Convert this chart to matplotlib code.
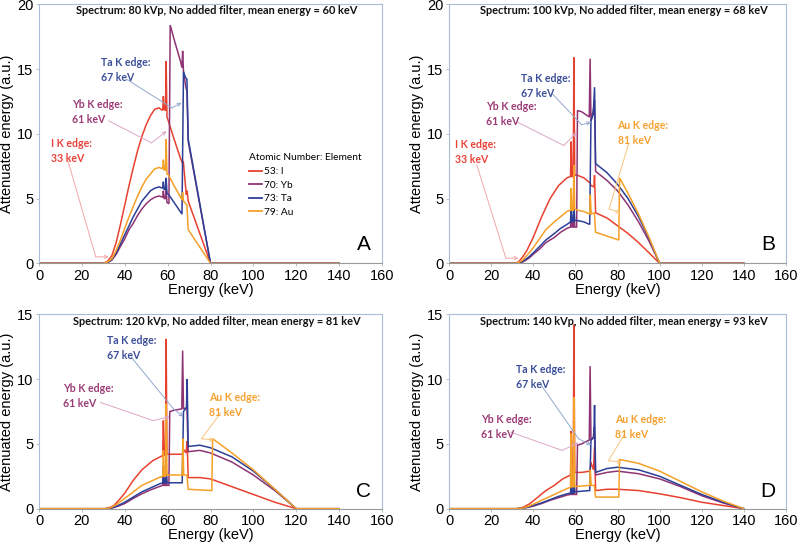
import matplotlib
matplotlib.use("Agg")
import matplotlib.pyplot as plt
from matplotlib.lines import Line2D

# ---------------- data (energy keV, attenuated energy a.u.) ----------------
elements = ["53: I", "70: Yb", "73: Ta", "79: Au"]
colors = ["#e8412f", "#8e3474", "#2c3f97", "#f5a027"]

a_I = [(0,0),(30,0),(32,0.15),(34,0.6),(36,1.6),(38,3.0),(40,4.5),(42,6.0),(44,7.4),(46,8.7),(48,9.8),(50,10.7),(52,11.4),(54,11.9),(56,12.0),(57.7,11.8),(58.0,12.9),(58.4,11.9),(59.0,11.8),(59.3,15.6),(59.7,11.3),(60.5,10.9),(63,9.6),(66,8.1),(67.0,7.7),(67.3,7.9),(68.7,5.3),(69.1,5.6),(69.6,4.8),(80,0),(140,0)]
a_Yb = [(0,0),(30,0),(32,0.05),(34,0.25),(36,0.7),(38,1.3),(40,1.9),(42,2.6),(44,3.1),(46,3.7),(48,4.2),(50,4.6),(52,4.9),(54,5.1),(56,5.2),(57.7,5.1),(58.0,5.6),(58.4,5.0),(59.0,5.0),(59.3,5.9),(59.7,4.7),(60.6,4.6),(61.2,18.4),(63,17.3),(66,15.6),(66.7,15.1),(67.0,16.4),(67.4,14.8),(68.5,13.6),(69.0,13.3),(69.6,9.4),(80,0),(140,0)]
a_Ta = [(0,0),(30,0),(32,0.05),(34,0.3),(36,0.8),(38,1.5),(40,2.2),(42,2.9),(44,3.6),(46,4.2),(48,4.8),(50,5.2),(52,5.6),(54,5.8),(56,5.9),(57.7,5.8),(58.0,6.3),(58.4,5.7),(59.0,5.7),(59.3,6.6),(59.7,5.4),(60.5,5.3),(63,4.7),(66.7,3.8),(67.4,14.8),(68.2,14.4),(69.0,14.2),(69.6,9.6),(80,0),(140,0)]
a_Au = [(0,0),(30,0),(32,0.1),(34,0.35),(36,1.0),(38,1.8),(40,2.7),(42,3.6),(44,4.4),(46,5.2),(48,5.9),(50,6.5),(52,6.9),(54,7.3),(56,7.4),(57.7,7.3),(58.0,8.0),(58.4,7.2),(59.0,7.2),(59.3,9.6),(59.7,6.9),(60.5,6.8),(63,6.0),(66.7,4.9),(67.0,5.5),(67.4,4.8),(69.0,4.5),(69.6,2.6),(80,0),(140,0)]

b_I = [(0,0),(31,0),(33,0.1),(35,0.5),(37,1.0),(40,2.0),(42,2.8),(44,3.6),(46,4.3),(48,5.0),(50,5.5),(52,6.0),(54,6.3),(56,6.6),(57.7,6.7),(58.0,9.4),(58.4,6.7),(59.0,6.7),(59.3,15.9),(59.7,6.8),(61,6.8),(64,6.6),(67.0,6.2),(67.4,6.0),(68.8,5.9),(69.1,6.8),(69.6,3.9),(75,3.5),(80,2.9),(85,2.3),(90,1.6),(95,0.8),(100,0),(140,0)]
b_Yb = [(0,0),(31,0),(33,0.02),(35,0.1),(38,0.4),(40,0.7),(43,1.1),(46,1.6),(50,2.0),(53,2.4),(56,2.7),(57.7,2.8),(58.0,3.8),(58.4,2.8),(59.0,2.8),(59.3,4.2),(59.7,2.8),(60.6,2.8),(61.0,11.8),(63,11.7),(66.6,11.3),(67.0,15.8),(67.4,11.0),(68.5,11.8),(69.1,12.6),(69.6,7.1),(75,6.4),(80,5.6),(85,4.5),(90,3.2),(95,1.7),(100,0),(140,0)]
b_Ta = [(0,0),(31,0),(33,0.03),(35,0.15),(38,0.5),(40,0.8),(43,1.3),(46,1.8),(50,2.3),(53,2.7),(56,3.0),(57.7,3.2),(58.0,4.5),(58.4,3.2),(59.0,3.2),(59.3,4.6),(59.7,3.3),(61,3.3),(64,3.2),(66.8,3.0),(67.4,11.0),(68.5,11.5),(69.1,13.6),(69.6,7.7),(75,7.0),(80,6.1),(85,5.0),(90,3.6),(95,1.9),(100,0),(140,0)]
b_Au = [(0,0),(31,0),(33,0.05),(35,0.25),(38,0.8),(40,1.2),(43,1.9),(46,2.6),(50,3.2),(53,3.6),(56,4.0),(57.7,4.1),(58.0,5.8),(58.4,4.1),(59.0,4.1),(59.3,7.6),(59.7,4.2),(61,4.1),(64,4.0),(66.8,3.8),(67.1,5.3),(67.5,3.8),(69.0,3.9),(69.6,2.4),(75,2.1),(80.6,1.8),(81.0,6.6),(85,5.4),(90,3.8),(95,2.0),(100,0),(140,0)]

c_I = [(0,0),(31,0),(33,0.1),(35,0.25),(38,0.8),(40,1.2),(44,2.2),(48,3.0),(53,3.7),(56.5,4.0),(57.7,4.1),(58.0,6.8),(58.4,4.1),(59.0,4.2),(59.3,13.1),(59.7,4.2),(63,4.2),(67.0,4.2),(67.3,4.6),(68.6,4.3),(69.1,5.2),(69.6,2.4),(75,2.4),(80,2.3),(90,1.7),(100,1.1),(110,0.5),(120,0),(140,0)]
c_Yb = [(0,0),(31,0),(34,0.05),(37,0.2),(40,0.4),(44,0.8),(48,1.15),(52,1.45),(56,1.7),(57.7,1.8),(58.0,2.8),(58.4,1.8),(59.0,1.8),(59.3,3.0),(59.7,1.8),(60.6,1.8),(61.0,7.5),(63,7.6),(66.6,7.7),(67.0,12.2),(67.4,7.7),(69.0,7.8),(69.6,4.4),(75,4.5),(80,4.3),(90,3.6),(100,2.6),(110,1.4),(120,0),(140,0)]
c_Ta = [(0,0),(31,0),(34,0.06),(37,0.25),(40,0.5),(44,0.9),(48,1.3),(52,1.6),(56,1.9),(57.7,2.0),(58.0,3.3),(58.4,2.0),(59.0,2.0),(59.3,3.1),(59.7,2.0),(63,2.0),(66.8,2.0),(67.4,7.5),(68.8,7.8),(69.1,10.0),(69.6,4.8),(75,4.9),(80,4.7),(90,4.0),(100,2.9),(110,1.5),(120,0),(140,0)]
c_Au = [(0,0),(31,0),(33,0.05),(36,0.3),(40,0.8),(44,1.3),(48,1.8),(52,2.1),(56,2.4),(57.7,2.5),(58.0,4.5),(58.4,2.5),(59.0,2.5),(59.3,8.1),(59.7,2.6),(63,2.6),(66.8,2.6),(67.1,5.4),(67.5,2.6),(69.0,2.6),(69.6,1.5),(75,1.45),(80.6,1.4),(81.0,5.4),(90,4.3),(100,3.0),(110,1.5),(120,0),(140,0)]

d_I = [(0,0),(32,0),(35,0.1),(38,0.35),(40,0.6),(43,1.0),(46,1.4),(50,1.8),(54,2.3),(57.7,2.6),(58.0,6.0),(58.4,2.6),(59.0,2.7),(59.3,14.2),(59.7,2.8),(63,2.8),(67.0,2.9),(67.3,3.6),(68.6,3.0),(69.1,4.8),(69.6,1.4),(75,1.5),(80,1.5),(90,1.4),(100,1.15),(110,0.85),(120,0.5),(130,0.25),(140,0)]
d_Yb = [(0,0),(32,0),(35,0.03),(38,0.12),(40,0.2),(44,0.4),(48,0.65),(52,0.85),(56,1.05),(57.7,1.1),(58.0,1.8),(58.4,1.1),(59.0,1.1),(59.3,2.2),(59.7,1.1),(60.6,1.1),(61.0,4.9),(63,5.0),(66.6,5.3),(67.0,11.0),(67.4,5.3),(68.5,5.5),(69.0,6.3),(69.6,2.6),(75,2.8),(80,2.9),(90,2.7),(100,2.3),(110,1.7),(120,1.0),(130,0.45),(140,0)]
d_Ta = [(0,0),(32,0),(35,0.04),(38,0.15),(40,0.25),(44,0.45),(48,0.7),(52,0.95),(56,1.15),(57.7,1.2),(58.0,2.0),(58.4,1.2),(59.0,1.2),(59.3,2.8),(59.7,1.3),(63,1.35),(66.8,1.4),(67.4,5.3),(68.8,5.5),(69.1,8.0),(69.6,2.8),(75,3.1),(80,3.2),(90,3.0),(100,2.5),(110,1.8),(120,1.1),(130,0.5),(140,0)]
d_Au = [(0,0),(32,0),(35,0.05),(38,0.2),(40,0.35),(44,0.65),(48,0.95),(52,1.25),(56,1.55),(57.7,1.65),(58.0,5.8),(58.4,1.7),(59.0,1.7),(59.3,8.6),(59.7,1.7),(63,1.75),(66.8,1.8),(67.1,3.0),(67.5,1.8),(69.0,1.8),(69.6,0.9),(75,0.9),(80.6,0.9),(81.0,3.8),(90,3.5),(100,2.9),(110,2.1),(120,1.3),(130,0.6),(140,0)]

titles = ["Spectrum: 80 kVp, No added filter, mean energy = 60 keV",
          "Spectrum: 100 kVp, No added filter, mean energy = 68 keV",
          "Spectrum: 120 kVp, No added filter, mean energy = 81 keV",
          "Spectrum: 140 kVp, No added filter, mean energy = 93 keV"]
panel_letters = ["A", "B", "C", "D"]
y_max = [20, 20, 15, 15]
x_ticks = [0, 20, 40, 60, 80, 100, 120, 140, 160]

panels = [[a_I, a_Yb, a_Ta, a_Au], [b_I, b_Yb, b_Ta, b_Au],
          [c_I, c_Yb, c_Ta, c_Au], [d_I, d_Yb, d_Ta, d_Au]]

# annotation layout: (text, text colour, line colour, text xy, elbow xy, arrow target xy)
edge_notes = [
    [("Ta K edge:\n67 keV", "#3b4f98", "#93a7cf", (29.0, 15.9), (41, 14.2), (62, 12.0), (66.5, 12.4)),
     ("Yb K edge:\n61 keV", "#9b3b76", "#dba8c6", (15.5, 12.7), (32.5, 11.0), (52.5, 9.3), (59.5, 10.2)),
     ("I K edge:\n33 keV", "#ea433a", "#f3a7a7", (5.5, 9.7), (13.5, 7.9), (26.5, 0.5), (32.5, 0.5))],
    [("Ta K edge:\n67 keV", "#3b4f98", "#93a7cf", (34.0, 14.7), (49, 13.1), (63, 10.7), (67.5, 10.9)),
     ("Yb K edge:\n61 keV", "#9b3b76", "#dba8c6", (17.8, 12.5), (32.5, 10.9), (54.5, 9.1), (60.5, 10.1)),
     ("I K edge:\n33 keV", "#ea433a", "#f3a7a7", (2.7, 9.6), (13.2, 7.6), (27, 0.4), (33, 0.4)),
     ("Au K edge:\n81 keV", "#f5a02f", "#f8c47e", (80, 11.1), (85.2, 9.2), (76, 4.2), (81.4, 3.9))],
    [("Ta K edge:\n67 keV", "#3b4f98", "#93a7cf", (31.5, 13.4), (43, 11.7), (62.7, 7.7), (67.4, 7.1)),
     ("Yb K edge:\n61 keV", "#9b3b76", "#dba8c6", (11.4, 9.7), (28.7, 8.2), (53.2, 6.8), (61, 7.1)),
     ("Au K edge:\n81 keV", "#f5a02f", "#f8c47e", (79.3, 9.0), (84.8, 7.4), (75.8, 5.4), (81.6, 5.3))],
    [("Ta K edge:\n67 keV", "#3b4f98", "#93a7cf", (31.7, 11.2), (43.5, 9.6), (61.5, 5.4), (67.5, 4.9)),
     ("Yb K edge:\n61 keV", "#9b3b76", "#dba8c6", (15.2, 7.3), (29.4, 5.9), (53.7, 4.5), (61.5, 5.1)),
     ("Au K edge:\n81 keV", "#f5a02f", "#f8c47e", (78.8, 7.3), (83.5, 5.8), (75.7, 3.7), (82, 3.6))],
]

# ---------------- figure ----------------
plt.rcParams["font.family"] = ["Liberation Sans", "DejaVu Sans"]
fig = plt.figure(figsize=(8, 5.44), dpi=100)
W, H = 800.0, 544.0
boxes = [(39, 4.3, 382, 263.3), (449, 4.3, 786, 263.3),
         (39, 314.3, 382, 508.7), (449, 314.3, 786, 508.7)]
spine_blue = "#a9bdd8"

for k in range(4):
    x0, y0, x1, y1 = boxes[k]
    ax = fig.add_axes([x0 / W, 1 - y1 / H, (x1 - x0) / W, (y1 - y0) / H])
    for series, col in zip(panels[k], colors):
        ax.plot([p[0] for p in series], [p[1] for p in series], color=col, lw=1.1,
                solid_joinstyle="miter")
    ax.set_xlim(0, 160)
    ax.set_ylim(0, y_max[k])
    ax.set_xticks(x_ticks)
    ax.set_yticks(range(0, y_max[k] + 1, 5))
    ax.tick_params(labelsize=10.5, length=2.5, width=0.6, color="#b5b5b5", pad=1.5)
    for s in ["left", "top", "right"]:
        ax.spines[s].set_color(spine_blue)
        ax.spines[s].set_linewidth(0.8)
    ax.spines["bottom"].set_color("#9a9a9a")
    ax.spines["bottom"].set_linewidth(0.8)
    ax.set_xlabel("Energy (keV)", fontsize=10.5, labelpad=0)
    ax.set_ylabel("Attenuated energy (a.u.)", fontsize=10.5, labelpad=2)
    ax.text(0.518, 0.975 if k < 2 else 0.962, titles[k], transform=ax.transAxes,
            ha="center", va="center", fontsize=7.9, fontweight="bold",
            family=["Lato", "DejaVu Sans"], color="#111111")
    ax.text(0.947, 0.035 if k < 2 else 0.04, panel_letters[k], transform=ax.transAxes,
            ha="center", va="bottom", fontsize=15)
    for txt, tcol, lcol, tpos, p0, p1, p2 in edge_notes[k]:
        ax.text(tpos[0], tpos[1], txt, color=tcol, fontsize=7.6, fontweight="bold",
                family=["Lato", "DejaVu Sans"], ha="left", va="top", linespacing=1.45)
        ax.plot([p0[0], p1[0]], [p0[1], p1[1]], color=lcol, lw=0.7)
        ax.annotate("", xy=p2, xytext=p1,
                    arrowprops=dict(arrowstyle="->", color=lcol, lw=0.7,
                                    shrinkA=0, shrinkB=0, mutation_scale=6))
    if k == 0:
        handles = [Line2D([0], [0], color=c, lw=1.3) for c in colors]
        leg = ax.legend(handles, elements, title="Atomic Number: Element",
                        loc="upper left", bbox_to_anchor=(0.6, 0.44), frameon=False,
                        handlelength=1.3, handletextpad=0.15, labelspacing=0.45,
                        borderaxespad=0, title_fontsize=7.3,
                        prop={"family": ["Lato", "DejaVu Sans"], "size": 7.3})
        leg.get_title().set_family(["Lato", "DejaVu Sans"])
        leg._legend_box.align = "left"

fig.savefig("out.png", dpi=100)
